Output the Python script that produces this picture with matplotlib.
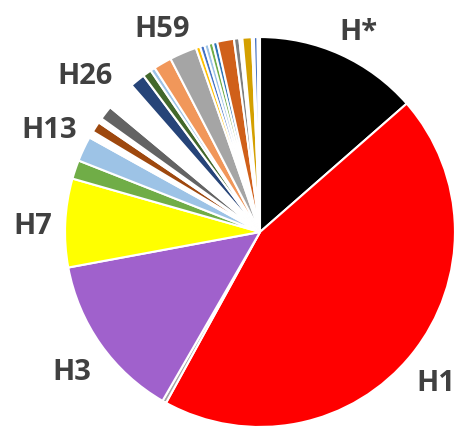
import matplotlib.pyplot as plt

# slice sizes in degrees (clockwise from 12 o'clock)
sizes = [48.8, 160.0, 1.2, 49.5, 26.4, 5.6, 7.5, 2.0, 3.2, 1.4, 4.2,
         9.0, 4.5, 2.6, 1.4, 5.4, 8.1, 1.3, 1.3, 1.3, 1.3, 1.3,
         5.0, 1.6, 0.9, 2.8, 0.6, 1.1, 0.7]
colors = ['#000000', '#FF0000', '#A5A5A5', '#A061CC', '#FFFF00', '#70AD47',
          '#9DC3E6', '#FFFFFF', '#9E480E', '#FFFFFF', '#636363',
          '#FFFFFF', '#264478', '#43682B', '#9DC3E6', '#F1975A', '#A5A5A5',
          '#FFC000', '#4472C4', '#9DC3E6', '#70AD47', '#2E75B6',
          '#D0601A', '#7F7F7F', '#FFFFFF', '#D4A000', '#FFFFFF', '#4472C4',
          '#FFFFFF']

label_names = ['H*', 'H1', 'H3', 'H7', 'H13', 'H26', 'H59']
label_x = [0.503, 0.903, -0.964, -1.164, -1.08, -0.897, -0.503]
label_y = [1.021, -0.776, -0.723, 0.026, 0.523, 0.80, 1.041]

fig = plt.figure(figsize=(4.57, 4.26), dpi=100)
ax = fig.add_axes([0, 0, 1, 1])
ax.pie(sizes, colors=colors, startangle=90, counterclock=False,
       wedgeprops=dict(edgecolor='white', linewidth=1.5))
ax.set_xlim(-1.333, 1.010)
ax.set_ylim(-0.995, 1.190)
ax.set_aspect('equal')
ax.axis('off')

for name, x, y in zip(label_names, label_x, label_y):
    ax.text(x, y, name, ha='center', va='center', fontsize=21,
            fontweight='bold', family='Open Sans', color='#404040')

fig.savefig('out.png', dpi=100)
